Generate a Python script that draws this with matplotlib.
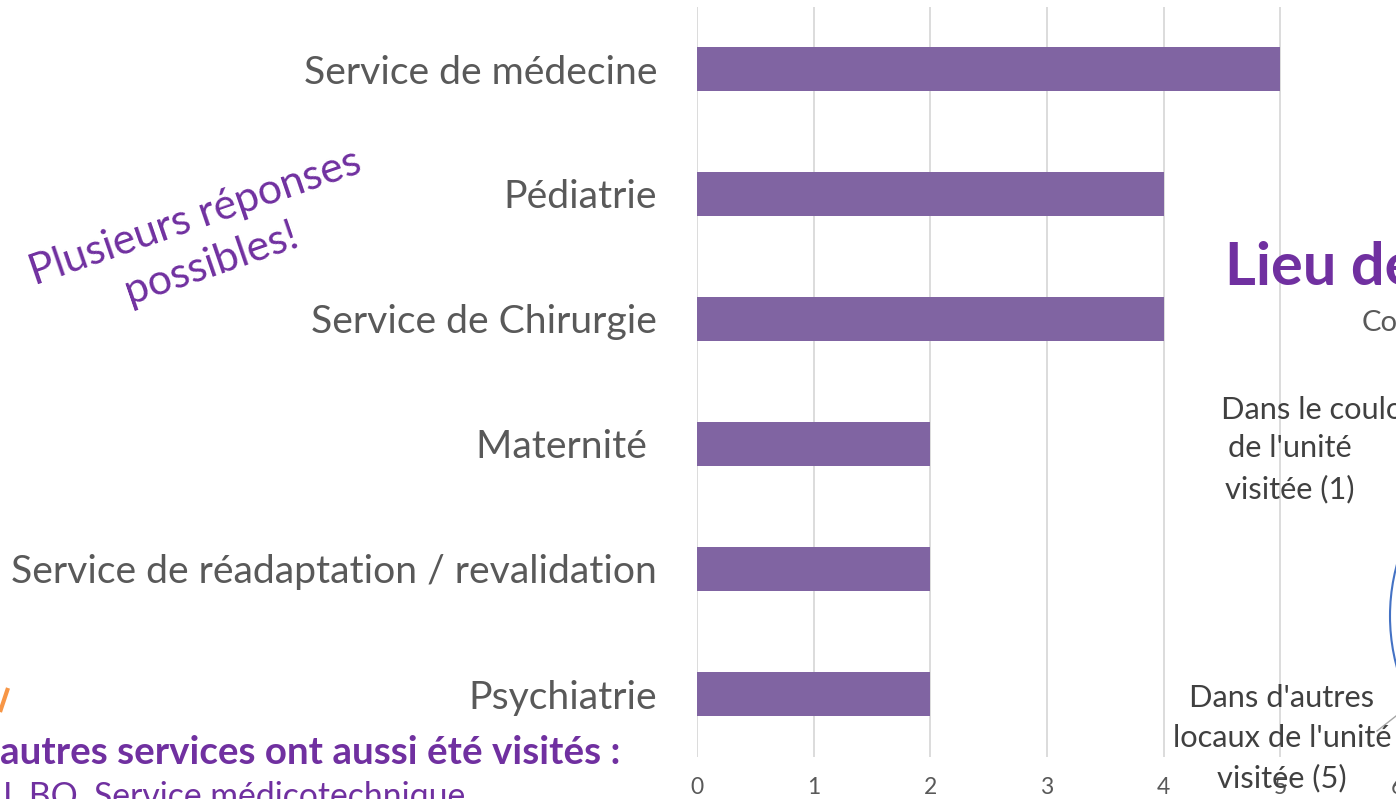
import matplotlib
matplotlib.use("Agg")
import matplotlib.pyplot as plt
from matplotlib.patches import Circle

# ---- data ----
categories = ["Service de médecine", "Pédiatrie", "Service de Chirurgie",
              "Maternité ", "Service de réadaptation / revalidation", "Psychiatrie"]
values = [5, 4, 4, 2, 2, 2]
xticks = [0, 1, 2, 3, 4, 5, 6]

W, H = 1396, 799
fig = plt.figure(figsize=(W / 100, H / 100), dpi=100)
FONT = "Lato"
renderer = fig.canvas.get_renderer()


def fit(s, target_w, weight="normal", start=20):
    t = fig.text(0, 0, s, fontsize=start, family=FONT, weight=weight)
    w = t.get_window_extent(renderer).width
    t.remove()
    return start * target_w / w


PURPLE_BAR = "#8064A2"
PURPLE = "#7030A0"
GRAY = "#595959"
DARK = "#404040"

# ---- main bar chart ----
left = 697 / W
right = 1397 / W
top = 1 - 6.5 / H
bottom = 1 - 756.5 / H
ax = fig.add_axes([left, bottom, right - left, top - bottom])
ypos = list(range(len(categories)))
ax.barh(ypos, values, height=0.35, color=PURPLE_BAR, zorder=2)
ax.set_xlim(0, 6)
ax.set_ylim(len(categories) - 0.5, -0.5)
ax.set_xticks(xticks)
ax.set_xticklabels([str(v) for v in xticks])
ax.set_yticks(ypos)
cat_fs = fit("Service de réadaptation / revalidation", 647)
ax.set_yticklabels(categories, fontsize=cat_fs, family=FONT, color=GRAY)
ax.tick_params(axis="y", length=0, pad=40 * 0.72)
ax.tick_params(axis="x", length=0, pad=21 * 0.72, labelsize=16.5, labelcolor=GRAY)
for lab in ax.get_xticklabels():
    lab.set_family(FONT)
ax.grid(axis="x", color="#D9D9D9", linewidth=1.3, zorder=0)
for sp in ax.spines.values():
    sp.set_visible(False)
ax.set_facecolor("none")

# ---- overlay in pixel coordinates for slide decorations ----
ov = fig.add_axes([0, 0, 1, 1])
ov.set_xlim(0, W)
ov.set_ylim(H, 0)
ov.axis("off")
ov.patch.set_visible(False)

ps = fit("Plusieurs réponses", 350)
ov.text(203, 240, "Plusieurs réponses\npossibles!", fontsize=ps, family=FONT,
        color=PURPLE, rotation=19, ha="center", va="center",
        multialignment="center", rotation_mode="anchor", linespacing=1.35)

ov.text(1225, 285, "Lieu de", fontsize=43 / 0.723 * 0.72, family=FONT,
        weight="bold", color=PURPLE, ha="left", va="baseline")
lab_fs = fit("locaux de l'unité", 220)
ov.text(1362, 323, "Co", fontsize=lab_fs * 0.95, family=FONT, color=GRAY,
        ha="left", va="center")
ov.text(1221, 410, "Dans le couloir", fontsize=lab_fs, family=FONT, color=DARK,
        ha="left", va="center")
ov.text(1290, 448, "de l'unité", fontsize=lab_fs, family=FONT, color=DARK,
        ha="center", va="center")
ov.text(1290, 489, "visitée (1)", fontsize=lab_fs, family=FONT, color=DARK,
        ha="center", va="center")
ov.text(1282, 698, "Dans d'autres", fontsize=lab_fs, family=FONT, color=DARK,
        ha="center", va="center")
ov.text(1282, 738, "locaux de l'unité", fontsize=lab_fs, family=FONT, color=DARK,
        ha="center", va="center")
ov.text(1282, 778, "visitée (5)", fontsize=lab_fs, family=FONT, color=DARK,
        ha="center", va="center")
ov.plot([1377, 1396], [731, 716], color="#A6A6A6", linewidth=1)
ov.add_patch(Circle((1585, 616), 195, facecolor="white", edgecolor="#4472C4",
                    linewidth=1.5))

ov.plot([0, 8], [712, 688], color="#F79646", linewidth=3, solid_capstyle="butt")
bs = fit("autres services ont aussi été visités :", 620, weight="bold")
ov.text(0, 752, "autres services ont aussi été visités :", fontsize=bs,
        family=FONT, weight="bold", color=PURPLE, ha="left", va="center")
ss = fit("I, BO, Service médicotechnique", 464)
ov.text(3, 807, "I, BO, Service médicotechnique", fontsize=ss, family=FONT,
        color=PURPLE, ha="left", va="baseline")

fig.savefig("out.png", dpi=100)
